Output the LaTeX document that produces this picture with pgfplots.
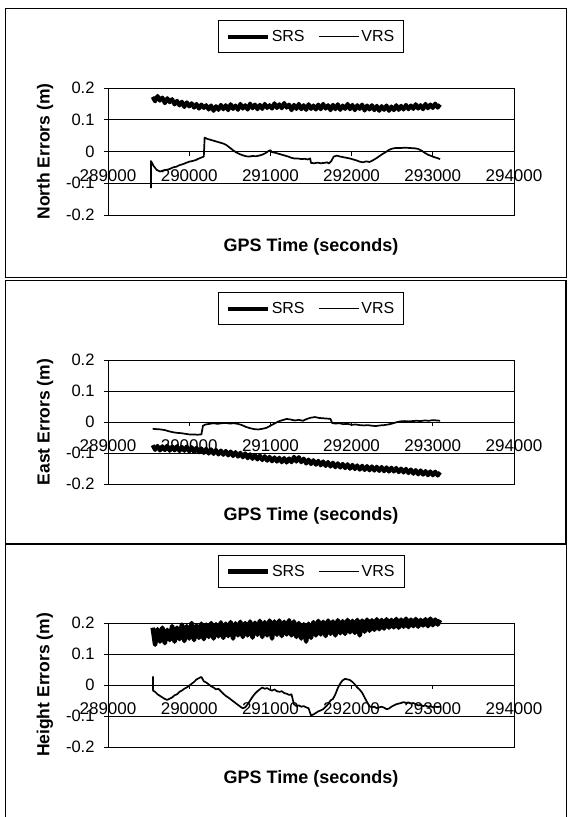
\documentclass[border=0pt]{standalone}
\usepackage{pgfplots}
\pgfplotsset{compat=1.18}
\usepackage{pgfplotstable}
\usepackage{fontspec}
\setmainfont{Liberation Sans}

\pgfplotsset{
 panel/.style={
   scale only axis, width=406pt, anchor=north west,
   xmin=289000, xmax=294000, ymin=-0.2, ymax=0.2,
   xtick=\empty, ytick={-0.2,-0.1,0,0.1,0.2}, yticklabels={-0.2,-0.1,0,0.1,0.2},
   scaled x ticks=false, scaled y ticks=false,
   ytick pos=left, tick align=outside, major tick length=4pt,
   ymajorgrids, grid style={black, line width=0.8pt},
   axis line style={black, line width=0.8pt},
   tick style={black, line width=0.8pt},
   yticklabel style={font=\fontsize{16.5}{18}\selectfont, xshift=-6pt},
   ylabel style={at={(axis description cs:0,0.5)}, anchor=center, yshift=63pt, font=\bfseries\fontsize{17.5}{19}\selectfont},
   xlabel style={at={(axis description cs:0.5,0)}, anchor=center, yshift=-32pt, font=\bfseries\fontsize{18}{20}\selectfont},
   xlabel={GPS Time (seconds)},
   legend columns=2,
   legend style={at={(0.5,1)}, anchor=center, yshift=51.5pt, draw=black, line width=0.8pt,
     font=\fontsize{16}{18}\selectfont, inner xsep=8pt, inner ysep=8pt,
     nodes={inner xsep=1.5pt},
     /tikz/every even column/.append style={column sep=12pt}},
   legend image code/.code={\draw[##1] (0pt,0pt) -- (40pt,0pt);},
 },
 xaxis/.style={
   scale only axis, width=406pt, anchor=north west,
   xmin=289000, xmax=294000, ymin=-0.2, ymax=0.2,
   scaled x ticks=false,
   axis x line*=middle, axis y line=none, ytick=\empty,
   xtick={289000,290000,291000,292000,293000,294000},
   xticklabels={289000,290000,291000,292000,293000,294000},
   tick align=outside, major tick length=4pt,
   x axis line style={black, line width=0.8pt},
   tick style={black, line width=0.8pt},
   xticklabel style={font=\fontsize{17}{19}\selectfont, anchor=center, yshift=-20pt},
 },
 srs/.style={black, line width=4pt, line join=round},
 vrs/.style={black, line width=1.7pt, line join=round},
}

\pgfplotstableread{
x y
289550 0.172
289580 0.158
289610 0.175
289640 0.160
289670 0.170
289700 0.152
289730 0.168
289760 0.155
289790 0.165
289820 0.148
289850 0.160
289880 0.145
289910 0.157
289940 0.140
289970 0.155
290000 0.142
290030 0.152
290060 0.138
290090 0.150
290120 0.135
290150 0.148
290180 0.137
290210 0.146
290240 0.132
290270 0.145
290300 0.128
290330 0.143
290360 0.131
290390 0.147
290420 0.133
290450 0.146
290480 0.130
290510 0.149
290540 0.134
290570 0.145
290600 0.131
290630 0.150
290660 0.135
290690 0.146
290720 0.132
290750 0.151
290780 0.136
290810 0.148
290840 0.133
290870 0.147
290900 0.134
290930 0.150
290960 0.137
290990 0.146
291020 0.135
291050 0.152
291080 0.137
291110 0.149
291140 0.136
291170 0.153
291200 0.138
291230 0.148
291260 0.130
291290 0.147
291320 0.134
291350 0.150
291380 0.133
291410 0.146
291440 0.131
291470 0.149
291500 0.134
291530 0.145
291560 0.132
291590 0.148
291620 0.133
291650 0.150
291680 0.135
291710 0.146
291740 0.130
291770 0.147
291800 0.133
291830 0.149
291860 0.131
291890 0.145
291920 0.134
291950 0.150
291980 0.133
292010 0.147
292040 0.130
292070 0.146
292100 0.134
292130 0.148
292160 0.129
292190 0.145
292220 0.132
292250 0.146
292280 0.130
292310 0.144
292340 0.128
292370 0.143
292400 0.131
292430 0.145
292460 0.128
292490 0.142
292520 0.130
292550 0.146
292580 0.131
292610 0.144
292640 0.132
292670 0.147
292700 0.133
292730 0.145
292760 0.134
292790 0.149
292820 0.135
292850 0.146
292880 0.133
292910 0.150
292940 0.136
292970 0.148
293000 0.137
293030 0.151
293060 0.138
293090 0.148
}\northsrs

\pgfplotstableread{
x y
289530 -0.115
289530 -0.030
289560 -0.045
289600 -0.058
289640 -0.063
289680 -0.060
289720 -0.058
289760 -0.055
289800 -0.050
289840 -0.048
289880 -0.043
289920 -0.040
289960 -0.036
290000 -0.032
290040 -0.030
290080 -0.027
290120 -0.022
290160 -0.018
290180 -0.016
290190 0.044
290220 0.040
290260 0.037
290300 0.034
290340 0.031
290380 0.028
290420 0.025
290460 0.020
290500 0.012
290540 0.004
290580 -0.003
290620 -0.008
290660 -0.012
290700 -0.015
290740 -0.016
290780 -0.014
290820 -0.015
290860 -0.013
290900 -0.010
290940 -0.005
290980 0.002
291000 0.004
291020 -0.002
291060 -0.004
291100 -0.007
291140 -0.010
291180 -0.013
291220 -0.016
291260 -0.020
291300 -0.022
291340 -0.022
291380 -0.024
291420 -0.023
291460 -0.025
291490 -0.022
291500 -0.036
291540 -0.037
291580 -0.035
291620 -0.037
291660 -0.036
291700 -0.034
291720 -0.038
291750 -0.030
291780 -0.016
291820 -0.013
291860 -0.016
291900 -0.018
291940 -0.020
291980 -0.022
292020 -0.025
292060 -0.028
292100 -0.032
292140 -0.034
292180 -0.031
292220 -0.033
292260 -0.028
292300 -0.022
292340 -0.015
292380 -0.008
292420 -0.002
292460 0.005
292500 0.009
292540 0.011
292600 0.011
292660 0.012
292720 0.011
292780 0.010
292820 0.008
292860 0.003
292900 -0.004
292940 -0.010
292980 -0.014
293020 -0.018
293060 -0.021
293090 -0.024
}\northvrs

\pgfplotstableread{
x y
289550 -0.075
289580 -0.090
289610 -0.077
289640 -0.092
289670 -0.078
289700 -0.091
289730 -0.076
289760 -0.093
289790 -0.079
289820 -0.092
289850 -0.078
289880 -0.094
289910 -0.080
289940 -0.093
289970 -0.079
290000 -0.095
290030 -0.081
290060 -0.097
290090 -0.083
290120 -0.098
290150 -0.085
290180 -0.100
290210 -0.086
290240 -0.102
290270 -0.088
290300 -0.103
290330 -0.090
290360 -0.105
290390 -0.092
290420 -0.106
290450 -0.093
290480 -0.108
290510 -0.095
290540 -0.110
290570 -0.097
290600 -0.112
290630 -0.099
290660 -0.114
290690 -0.101
290720 -0.117
290750 -0.104
290780 -0.119
290810 -0.106
290840 -0.121
290870 -0.108
290900 -0.123
290930 -0.110
290960 -0.125
290990 -0.112
291020 -0.127
291050 -0.114
291080 -0.128
291110 -0.115
291140 -0.130
291170 -0.116
291200 -0.131
291230 -0.117
291260 -0.130
291290 -0.112
291320 -0.128
291350 -0.113
291380 -0.130
291410 -0.118
291440 -0.134
291470 -0.121
291500 -0.136
291530 -0.123
291560 -0.138
291590 -0.125
291620 -0.140
291650 -0.127
291680 -0.142
291710 -0.129
291740 -0.144
291770 -0.131
291800 -0.146
291830 -0.133
291860 -0.147
291890 -0.135
291920 -0.149
291950 -0.136
291980 -0.151
292010 -0.138
292040 -0.152
292070 -0.140
292100 -0.154
292130 -0.141
292160 -0.155
292190 -0.142
292220 -0.156
292250 -0.143
292280 -0.157
292310 -0.144
292340 -0.158
292370 -0.145
292400 -0.159
292430 -0.146
292460 -0.160
292490 -0.147
292520 -0.160
292550 -0.148
292580 -0.162
292610 -0.150
292640 -0.163
292670 -0.151
292700 -0.165
292730 -0.153
292760 -0.167
292790 -0.155
292820 -0.169
292850 -0.156
292880 -0.170
292910 -0.158
292940 -0.172
292970 -0.159
293000 -0.172
293030 -0.160
293060 -0.173
293090 -0.162
}\eastsrs

\pgfplotstableread{
x y
289550 -0.022
289600 -0.023
289650 -0.024
289700 -0.026
289750 -0.030
289800 -0.033
289850 -0.035
289900 -0.036
289950 -0.038
290000 -0.040
290050 -0.040
290100 -0.041
290150 -0.040
290170 -0.012
290200 -0.008
290250 -0.006
290300 -0.004
290350 -0.006
290400 -0.004
290450 -0.003
290500 -0.005
290550 -0.004
290600 -0.006
290650 -0.010
290700 -0.016
290750 -0.020
290800 -0.023
290850 -0.024
290900 -0.022
290950 -0.019
291000 -0.012
291050 -0.005
291100 0.002
291150 0.006
291200 0.010
291250 0.008
291300 0.005
291350 0.007
291400 0.004
291450 0.010
291500 0.014
291550 0.016
291600 0.013
291650 0.012
291700 0.011
291740 0.010
291760 -0.003
291800 -0.005
291850 -0.004
291900 -0.007
291950 -0.006
292000 -0.009
292050 -0.008
292100 -0.010
292150 -0.011
292200 -0.010
292250 -0.012
292300 -0.013
292350 -0.011
292400 -0.010
292450 -0.008
292500 -0.005
292550 -0.001
292600 0.002
292650 0.003
292700 0.002
292750 0.003
292800 0.004
292850 0.003
292900 0.005
292950 0.004
293000 0.006
293050 0.005
293090 0.004
}\eastvrs

\pgfplotstableread{
x y
289550 0.185
289580 0.130
289610 0.180
289640 0.140
289670 0.185
289700 0.135
289730 0.178
289760 0.145
289790 0.190
289820 0.140
289850 0.185
289880 0.148
289910 0.195
289940 0.142
289970 0.190
290000 0.150
290030 0.200
290060 0.145
290090 0.192
290120 0.152
290150 0.198
290180 0.148
290210 0.195
290240 0.155
290270 0.200
290300 0.150
290330 0.196
290360 0.157
290390 0.202
290420 0.152
290450 0.198
290480 0.158
290510 0.203
290540 0.150
290570 0.199
290600 0.160
290630 0.204
290660 0.155
290690 0.200
290720 0.160
290750 0.205
290780 0.153
290810 0.201
290840 0.162
290870 0.207
290900 0.155
290930 0.203
290960 0.160
290990 0.208
291020 0.150
291050 0.205
291080 0.162
291110 0.208
291140 0.158
291170 0.204
291200 0.163
291230 0.209
291260 0.160
291290 0.205
291320 0.155
291350 0.200
291380 0.150
291410 0.196
291440 0.140
291470 0.198
291500 0.152
291530 0.203
291560 0.160
291590 0.207
291620 0.163
291650 0.204
291680 0.158
291710 0.208
291740 0.165
291770 0.205
291800 0.160
291830 0.209
291860 0.167
291890 0.206
291920 0.165
291950 0.210
291980 0.170
292010 0.207
292040 0.168
292070 0.210
292100 0.160
292130 0.208
292160 0.172
292190 0.211
292220 0.175
292250 0.209
292280 0.178
292310 0.212
292340 0.180
292370 0.210
292400 0.182
292430 0.212
292460 0.185
292490 0.210
292520 0.186
292550 0.213
292580 0.185
292610 0.211
292640 0.188
292670 0.214
292700 0.187
292730 0.211
292760 0.190
292790 0.213
292820 0.188
292850 0.210
292880 0.192
292910 0.212
292940 0.190
292970 0.214
293000 0.193
293030 0.211
293060 0.195
293090 0.210
}\heightsrs

\pgfplotstableread{
x y
289555 0.028
289555 -0.018
289580 -0.022
289610 -0.030
289640 -0.035
289670 -0.040
289700 -0.045
289730 -0.048
289760 -0.044
289790 -0.040
289820 -0.033
289850 -0.030
289880 -0.022
289910 -0.018
289940 -0.012
289970 -0.008
290000 -0.002
290030 0.004
290060 0.010
290090 0.018
290120 0.022
290150 0.026
290180 0.012
290210 0.008
290240 0.002
290270 -0.004
290300 -0.008
290330 -0.014
290360 -0.012
290390 -0.020
290420 -0.028
290450 -0.035
290480 -0.040
290510 -0.046
290540 -0.052
290570 -0.058
290600 -0.064
290630 -0.070
290660 -0.075
290690 -0.072
290720 -0.062
290750 -0.050
290780 -0.038
290810 -0.028
290840 -0.020
290870 -0.014
290900 -0.008
290930 -0.012
290960 -0.010
290990 -0.015
291020 -0.018
291050 -0.014
291080 -0.020
291110 -0.022
291140 -0.020
291170 -0.026
291200 -0.028
291230 -0.032
291260 -0.030
291290 -0.062
291320 -0.068
291350 -0.066
291380 -0.070
291410 -0.068
291440 -0.072
291470 -0.075
291500 -0.098
291530 -0.095
291560 -0.090
291590 -0.085
291620 -0.082
291650 -0.078
291680 -0.070
291710 -0.062
291740 -0.050
291770 -0.045
291800 -0.030
291830 -0.010
291860 0.005
291890 0.015
291920 0.020
291950 0.018
291980 0.016
292010 0.010
292040 0.002
292070 -0.008
292100 -0.015
292130 -0.025
292160 -0.040
292190 -0.055
292220 -0.068
292250 -0.072
292280 -0.070
292310 -0.075
292340 -0.072
292370 -0.070
292400 -0.073
292430 -0.078
292460 -0.076
292490 -0.070
292520 -0.066
292550 -0.062
292580 -0.060
292610 -0.058
292640 -0.055
292670 -0.058
292700 -0.056
292730 -0.060
292760 -0.058
292790 -0.062
292820 -0.066
292850 -0.064
292880 -0.068
292910 -0.066
292940 -0.070
292970 -0.068
293000 -0.072
293030 -0.070
293060 -0.071
293090 -0.070
}\heightvrs

\begin{document}
\begin{tikzpicture}[x=1pt,y=1pt]
\path[use as bounding box] (0,0) rectangle (568,-817);
\draw[line width=0.9pt] (5,-8) rectangle (566,-277);
\draw[line width=0.9pt] (5,-280) rectangle (566,-543);
\draw[line width=1.8pt] (566,-280) -- (566,-543);
\draw[line width=0.9pt] (5,-544) rectangle (566,-830);

% North
\begin{axis}[panel, at={(108pt,-88pt)}, height=127pt, ylabel={North Errors (m)}]
 \addplot[srs] table {\northsrs}; \addlegendentry{SRS}
 \addplot[vrs] table {\northvrs}; \addlegendentry{VRS}
\end{axis}
\begin{axis}[xaxis, at={(108pt,-88pt)}, height=127pt]
 \addplot[draw=none] coordinates {(289000,0) (294000,0)};
\end{axis}

% East
\begin{axis}[panel, at={(108pt,-360pt)}, height=124pt, ylabel={East Errors (m)}]
 \addplot[srs] table {\eastsrs}; \addlegendentry{SRS}
 \addplot[vrs] table {\eastvrs}; \addlegendentry{VRS}
\end{axis}
\begin{axis}[xaxis, at={(108pt,-360pt)}, height=124pt]
 \addplot[draw=none] coordinates {(289000,0) (294000,0)};
\end{axis}

% Height
\begin{axis}[panel, at={(108pt,-623pt)}, height=124pt, ylabel={Height Errors (m)}, clip=false]
 \addplot[srs, line width=4.5pt] table {\heightsrs}; \addlegendentry{SRS}
 \addplot[vrs] table {\heightvrs}; \addlegendentry{VRS}
\end{axis}
\begin{axis}[xaxis, at={(108pt,-623pt)}, height=124pt]
 \addplot[draw=none] coordinates {(289000,0) (294000,0)};
\end{axis}
\end{tikzpicture}
\end{document}
